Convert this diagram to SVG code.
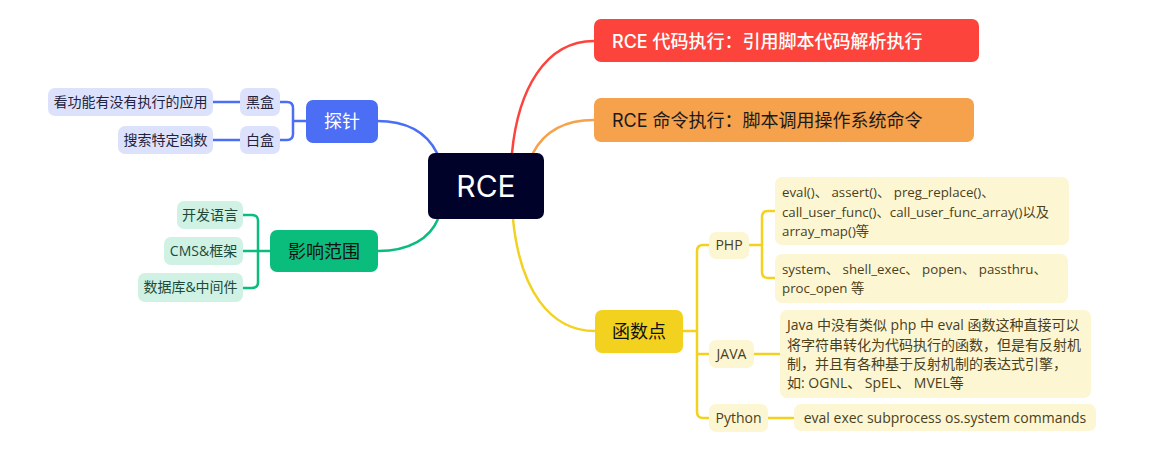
<svg xmlns="http://www.w3.org/2000/svg" width="1165" height="449" viewBox="0 0 1165 449">
<style>
text{font-family:"Open Sans","Noto Sans CJK SC",sans-serif;}
text.h{font-family:Inter,"Noto Sans CJK SC",sans-serif;}
.c{fill:none;stroke-width:2.5;stroke-linecap:round}
.b{stroke:#4B6EF5}.g{stroke:#0BBD7C}.y{stroke:#F2D21F}.r{stroke:#FC443D}.o{stroke:#F6A14B}
.lb{fill:#DCE2FC}.lg{fill:#CFF2E5}.ly{fill:#FDF6D3}
.t14{font-size:14px}.t13{font-size:13.3px}.t18{font-size:18px}
.m{text-anchor:middle}
</style>
<rect width="1165" height="449" fill="#fff"/>
<g id="connectors">
<path class="c r" d="M512 153 C518 90 545 41 594 41"/>
<path class="c o" d="M533 153 C545 130 565 120 594 120"/>
<path class="c y" d="M513 219 C520 290 550 331 595 331"/>
<path class="c b" d="M377 121 C410 121 428 135 437 153"/>
<path class="c g" d="M378 251 C410 251 430 238 438 219"/>
<path class="c b" d="M280 102 H287 Q293 102 293 108 V134 Q293 140 287 140 H280 M293 121 H306 M213 102 H240 M213 140 H240"/>
<path class="c g" d="M243 215 H252 Q258 215 258 221 V282 Q258 288 252 288 H243 M243 251 H270"/>
<path class="c y" d="M709 245 H703 Q697 245 697 251 V412 Q697 418 703 418 H709 M697 354 H709 M683 331 H697"/>
<path class="c y" d="M775 211 H768 Q762 211 762 217 V272 Q762 278 768 278 H775 M748 245 H762 M754 354 H780 M768 418 H793"/>
</g>
<g id="rce">
<rect x="428" y="153" width="116" height="66" rx="7" fill="#000229"/>
<text x="486" y="197" class="m h" font-size="30" fill="#fff">RCE</text>
</g>
<g id="code">
<rect x="594" y="19" width="385" height="43" rx="7" fill="#FC443D"/>
<text x="612" y="48" class="h" font-size="18" font-weight="500" fill="#fff">RCE 代码执行：引用脚本代码解析执行</text>
</g>
<g id="cmd">
<rect x="594" y="98" width="380" height="44" rx="7" fill="#F6A14B"/>
<text x="612" y="127" class="h" font-size="18" fill="#1a1a1a">RCE 命令执行：脚本调用操作系统命令</text>
</g>
<g id="probe">
<rect x="306" y="100" width="72" height="43" rx="7" fill="#4B6EF5"/>
<text x="342" y="128" class="m t18" fill="#fff">探针</text>
</g>
<g id="blackbox">
<rect x="240" y="88" width="40" height="28" rx="7" class="lb"/>
<text x="260" y="107" class="m t14" fill="#1f2340">黑盒</text>
</g>
<g id="whitebox">
<rect x="240" y="126" width="40" height="28" rx="7" class="lb"/>
<text x="260" y="145" class="m t14" fill="#1f2340">白盒</text>
</g>
<g id="leaf-bb">
<rect x="48" y="88" width="165" height="28" rx="7" class="lb"/>
<text x="130.5" y="107" class="m t14" fill="#1f2340">看功能有没有执行的应用</text>
</g>
<g id="leaf-wb">
<rect x="118" y="126" width="95" height="28" rx="7" class="lb"/>
<text x="165.5" y="145" class="m t14" fill="#1f2340">搜索特定函数</text>
</g>
<g id="scope">
<rect x="270" y="230" width="108" height="42" rx="7" fill="#0BBD7C"/>
<text x="324" y="258" class="m t18" fill="#111">影响范围</text>
</g>
<g id="lang">
<rect x="177" y="201" width="66" height="28" rx="7" class="lg"/>
<text x="210" y="220" class="m t14" fill="#1d4a3a">开发语言</text>
</g>
<g id="cms">
<rect x="164" y="237" width="79" height="28" rx="7" class="lg"/>
<text x="203.5" y="256" class="m t14" fill="#1d4a3a">CMS&amp;框架</text>
</g>
<g id="db">
<rect x="138" y="273" width="105" height="29" rx="7" class="lg"/>
<text x="190.5" y="292" class="m t14" fill="#1d4a3a">数据库&amp;中间件</text>
</g>
<g id="func">
<rect x="595" y="310" width="88" height="43" rx="7" fill="#F2D21F"/>
<text x="639" y="338" class="m t18" fill="#111">函数点</text>
</g>
<g id="php">
<rect x="709" y="232" width="40" height="27" rx="7" class="ly"/>
<text x="729" y="250" class="m t14" fill="#4a3f1c">PHP</text>
</g>
<g id="java">
<rect x="709" y="340" width="45" height="28" rx="7" class="ly"/>
<text x="731.5" y="359" class="m t14" fill="#4a3f1c">JAVA</text>
</g>
<g id="python">
<rect x="709" y="404" width="59" height="28" rx="7" class="ly"/>
<text x="738.5" y="423" class="m t14" fill="#4a3f1c">Python</text>
</g>
<g id="php1">
<rect x="775" y="177" width="294" height="68" rx="7" class="ly"/>
<text class="t13" fill="#4a3f1c"><tspan x="782" y="197">eval()、 assert()、 preg_replace()、</tspan><tspan x="782" y="217">call_user_func()、call_user_func_array()以及</tspan><tspan x="782" y="236">array_map()等</tspan></text>
</g>
<g id="php2">
<rect x="775" y="254" width="293" height="49" rx="7" class="ly"/>
<text class="t13" fill="#4a3f1c"><tspan x="782" y="274">system、 shell_exec、 popen、 passthru、</tspan><tspan x="782" y="293">proc_open 等</tspan></text>
</g>
<g id="java1">
<rect x="780" y="310" width="311" height="88" rx="7" class="ly"/>
<text class="t14" fill="#4a3f1c"><tspan x="787" y="330">Java 中没有类似 php 中 eval 函数这种直接可以</tspan><tspan x="787" y="350">将字符串转化为代码执行的函数，但是有反射机</tspan><tspan x="787" y="369">制，并且有各种基于反射机制的表达式引擎，</tspan><tspan x="787" y="388">如: OGNL、 SpEL、 MVEL等</tspan></text>
</g>
<g id="py1">
<rect x="794" y="404" width="302" height="27" rx="7" class="ly"/>
<text x="945" y="423" class="m t14" fill="#4a3f1c">eval exec subprocess os.system commands</text>
</g>
</svg>
